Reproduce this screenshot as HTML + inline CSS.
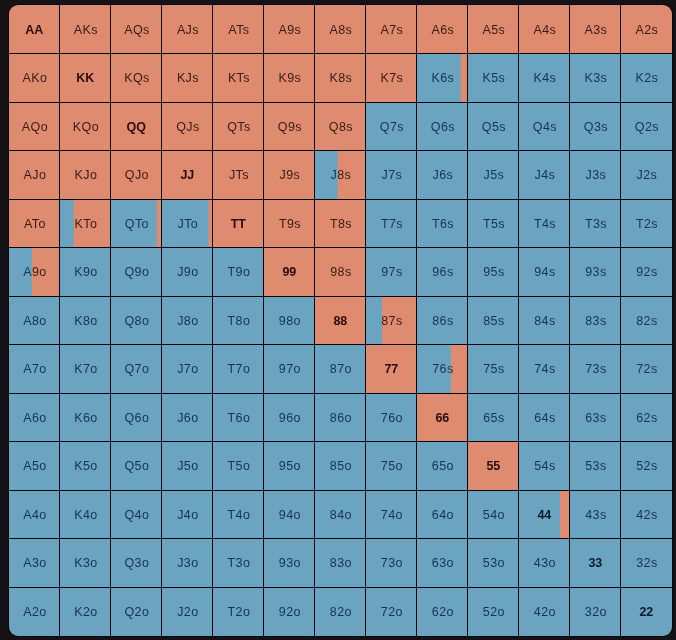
<!DOCTYPE html>
<html><head><meta charset="utf-8"><style>
html,body{margin:0;padding:0;}
body{width:676px;height:640px;background:#141215;position:relative;overflow:hidden;}
.g{position:absolute;left:8px;top:4px;width:663px;height:631px;border:1px solid #07070b;background:#07070b;border-radius:10px;overflow:hidden;}
.c{position:absolute;background:#6aa4c0;}
.s{background:#df8b70;}
.t{position:absolute;width:50px;height:50px;line-height:50px;text-align:center;box-sizing:border-box;padding-left:1.8px;
font-family:"Liberation Sans",sans-serif;font-size:12.5px;letter-spacing:0.4px;}
.p{font-weight:bold;letter-spacing:0;padding-left:0.7px;}
</style></head><body>
<div class="g">
<div class="c s" style="left:0px;top:0px;width:50px;height:48px"></div>
<div class="c s" style="left:51px;top:0px;width:50px;height:48px"></div>
<div class="c s" style="left:102px;top:0px;width:50px;height:48px"></div>
<div class="c s" style="left:153px;top:0px;width:50px;height:48px"></div>
<div class="c s" style="left:204px;top:0px;width:50px;height:48px"></div>
<div class="c s" style="left:255px;top:0px;width:50px;height:48px"></div>
<div class="c s" style="left:306px;top:0px;width:50px;height:48px"></div>
<div class="c s" style="left:357px;top:0px;width:50px;height:48px"></div>
<div class="c s" style="left:408px;top:0px;width:50px;height:48px"></div>
<div class="c s" style="left:459px;top:0px;width:50px;height:48px"></div>
<div class="c s" style="left:510px;top:0px;width:50px;height:48px"></div>
<div class="c s" style="left:561px;top:0px;width:50px;height:48px"></div>
<div class="c s" style="left:612px;top:0px;width:51px;height:48px"></div>
<div class="c s" style="left:0px;top:49px;width:50px;height:48px"></div>
<div class="c s" style="left:51px;top:49px;width:50px;height:48px"></div>
<div class="c s" style="left:102px;top:49px;width:50px;height:48px"></div>
<div class="c s" style="left:153px;top:49px;width:50px;height:48px"></div>
<div class="c s" style="left:204px;top:49px;width:50px;height:48px"></div>
<div class="c s" style="left:255px;top:49px;width:50px;height:48px"></div>
<div class="c s" style="left:306px;top:49px;width:50px;height:48px"></div>
<div class="c s" style="left:357px;top:49px;width:50px;height:48px"></div>
<div class="c" style="left:408px;top:49px;width:50px;height:48px;background:linear-gradient(to right,#6aa4c0 43.20px,#df8b70 44.20px)"></div>
<div class="c" style="left:459px;top:49px;width:50px;height:48px"></div>
<div class="c" style="left:510px;top:49px;width:50px;height:48px"></div>
<div class="c" style="left:561px;top:49px;width:50px;height:48px"></div>
<div class="c" style="left:612px;top:49px;width:51px;height:48px"></div>
<div class="c s" style="left:0px;top:98px;width:50px;height:47px"></div>
<div class="c s" style="left:51px;top:98px;width:50px;height:47px"></div>
<div class="c s" style="left:102px;top:98px;width:50px;height:47px"></div>
<div class="c s" style="left:153px;top:98px;width:50px;height:47px"></div>
<div class="c s" style="left:204px;top:98px;width:50px;height:47px"></div>
<div class="c s" style="left:255px;top:98px;width:50px;height:47px"></div>
<div class="c s" style="left:306px;top:98px;width:50px;height:47px"></div>
<div class="c" style="left:357px;top:98px;width:50px;height:47px"></div>
<div class="c" style="left:408px;top:98px;width:50px;height:47px"></div>
<div class="c" style="left:459px;top:98px;width:50px;height:47px"></div>
<div class="c" style="left:510px;top:98px;width:50px;height:47px"></div>
<div class="c" style="left:561px;top:98px;width:50px;height:47px"></div>
<div class="c" style="left:612px;top:98px;width:51px;height:47px"></div>
<div class="c s" style="left:0px;top:146px;width:50px;height:48px"></div>
<div class="c s" style="left:51px;top:146px;width:50px;height:48px"></div>
<div class="c s" style="left:102px;top:146px;width:50px;height:48px"></div>
<div class="c s" style="left:153px;top:146px;width:50px;height:48px"></div>
<div class="c s" style="left:204px;top:146px;width:50px;height:48px"></div>
<div class="c s" style="left:255px;top:146px;width:50px;height:48px"></div>
<div class="c" style="left:306px;top:146px;width:50px;height:48px;background:linear-gradient(to right,#6aa4c0 22.20px,#df8b70 23.20px)"></div>
<div class="c" style="left:357px;top:146px;width:50px;height:48px"></div>
<div class="c" style="left:408px;top:146px;width:50px;height:48px"></div>
<div class="c" style="left:459px;top:146px;width:50px;height:48px"></div>
<div class="c" style="left:510px;top:146px;width:50px;height:48px"></div>
<div class="c" style="left:561px;top:146px;width:50px;height:48px"></div>
<div class="c" style="left:612px;top:146px;width:51px;height:48px"></div>
<div class="c s" style="left:0px;top:195px;width:50px;height:47px"></div>
<div class="c" style="left:51px;top:195px;width:50px;height:47px;background:linear-gradient(to right,#6aa4c0 13.20px,#df8b70 14.20px)"></div>
<div class="c" style="left:102px;top:195px;width:50px;height:47px;background:linear-gradient(to right,#6aa4c0 45.30px,#df8b70 46.30px)"></div>
<div class="c" style="left:153px;top:195px;width:50px;height:47px;background:linear-gradient(to right,#6aa4c0 46.00px,#df8b70 47.00px)"></div>
<div class="c s" style="left:204px;top:195px;width:50px;height:47px"></div>
<div class="c s" style="left:255px;top:195px;width:50px;height:47px"></div>
<div class="c s" style="left:306px;top:195px;width:50px;height:47px"></div>
<div class="c" style="left:357px;top:195px;width:50px;height:47px"></div>
<div class="c" style="left:408px;top:195px;width:50px;height:47px"></div>
<div class="c" style="left:459px;top:195px;width:50px;height:47px"></div>
<div class="c" style="left:510px;top:195px;width:50px;height:47px"></div>
<div class="c" style="left:561px;top:195px;width:50px;height:47px"></div>
<div class="c" style="left:612px;top:195px;width:51px;height:47px"></div>
<div class="c" style="left:0px;top:243px;width:50px;height:48px;background:linear-gradient(to right,#6aa4c0 22.35px,#df8b70 23.35px)"></div>
<div class="c" style="left:51px;top:243px;width:50px;height:48px"></div>
<div class="c" style="left:102px;top:243px;width:50px;height:48px"></div>
<div class="c" style="left:153px;top:243px;width:50px;height:48px"></div>
<div class="c" style="left:204px;top:243px;width:50px;height:48px"></div>
<div class="c s" style="left:255px;top:243px;width:50px;height:48px"></div>
<div class="c s" style="left:306px;top:243px;width:50px;height:48px"></div>
<div class="c" style="left:357px;top:243px;width:50px;height:48px"></div>
<div class="c" style="left:408px;top:243px;width:50px;height:48px"></div>
<div class="c" style="left:459px;top:243px;width:50px;height:48px"></div>
<div class="c" style="left:510px;top:243px;width:50px;height:48px"></div>
<div class="c" style="left:561px;top:243px;width:50px;height:48px"></div>
<div class="c" style="left:612px;top:243px;width:51px;height:48px"></div>
<div class="c" style="left:0px;top:292px;width:50px;height:47px"></div>
<div class="c" style="left:51px;top:292px;width:50px;height:47px"></div>
<div class="c" style="left:102px;top:292px;width:50px;height:47px"></div>
<div class="c" style="left:153px;top:292px;width:50px;height:47px"></div>
<div class="c" style="left:204px;top:292px;width:50px;height:47px"></div>
<div class="c" style="left:255px;top:292px;width:50px;height:47px"></div>
<div class="c s" style="left:306px;top:292px;width:50px;height:47px"></div>
<div class="c" style="left:357px;top:292px;width:50px;height:47px;background:linear-gradient(to right,#6aa4c0 15.50px,#df8b70 16.50px)"></div>
<div class="c" style="left:408px;top:292px;width:50px;height:47px"></div>
<div class="c" style="left:459px;top:292px;width:50px;height:47px"></div>
<div class="c" style="left:510px;top:292px;width:50px;height:47px"></div>
<div class="c" style="left:561px;top:292px;width:50px;height:47px"></div>
<div class="c" style="left:612px;top:292px;width:51px;height:47px"></div>
<div class="c" style="left:0px;top:340px;width:50px;height:48px"></div>
<div class="c" style="left:51px;top:340px;width:50px;height:48px"></div>
<div class="c" style="left:102px;top:340px;width:50px;height:48px"></div>
<div class="c" style="left:153px;top:340px;width:50px;height:48px"></div>
<div class="c" style="left:204px;top:340px;width:50px;height:48px"></div>
<div class="c" style="left:255px;top:340px;width:50px;height:48px"></div>
<div class="c" style="left:306px;top:340px;width:50px;height:48px"></div>
<div class="c s" style="left:357px;top:340px;width:50px;height:48px"></div>
<div class="c" style="left:408px;top:340px;width:50px;height:48px;background:linear-gradient(to right,#6aa4c0 33.50px,#df8b70 34.50px)"></div>
<div class="c" style="left:459px;top:340px;width:50px;height:48px"></div>
<div class="c" style="left:510px;top:340px;width:50px;height:48px"></div>
<div class="c" style="left:561px;top:340px;width:50px;height:48px"></div>
<div class="c" style="left:612px;top:340px;width:51px;height:48px"></div>
<div class="c" style="left:0px;top:389px;width:50px;height:47px"></div>
<div class="c" style="left:51px;top:389px;width:50px;height:47px"></div>
<div class="c" style="left:102px;top:389px;width:50px;height:47px"></div>
<div class="c" style="left:153px;top:389px;width:50px;height:47px"></div>
<div class="c" style="left:204px;top:389px;width:50px;height:47px"></div>
<div class="c" style="left:255px;top:389px;width:50px;height:47px"></div>
<div class="c" style="left:306px;top:389px;width:50px;height:47px"></div>
<div class="c" style="left:357px;top:389px;width:50px;height:47px"></div>
<div class="c s" style="left:408px;top:389px;width:50px;height:47px"></div>
<div class="c" style="left:459px;top:389px;width:50px;height:47px"></div>
<div class="c" style="left:510px;top:389px;width:50px;height:47px"></div>
<div class="c" style="left:561px;top:389px;width:50px;height:47px"></div>
<div class="c" style="left:612px;top:389px;width:51px;height:47px"></div>
<div class="c" style="left:0px;top:437px;width:50px;height:48px"></div>
<div class="c" style="left:51px;top:437px;width:50px;height:48px"></div>
<div class="c" style="left:102px;top:437px;width:50px;height:48px"></div>
<div class="c" style="left:153px;top:437px;width:50px;height:48px"></div>
<div class="c" style="left:204px;top:437px;width:50px;height:48px"></div>
<div class="c" style="left:255px;top:437px;width:50px;height:48px"></div>
<div class="c" style="left:306px;top:437px;width:50px;height:48px"></div>
<div class="c" style="left:357px;top:437px;width:50px;height:48px"></div>
<div class="c" style="left:408px;top:437px;width:50px;height:48px"></div>
<div class="c s" style="left:459px;top:437px;width:50px;height:48px"></div>
<div class="c" style="left:510px;top:437px;width:50px;height:48px"></div>
<div class="c" style="left:561px;top:437px;width:50px;height:48px"></div>
<div class="c" style="left:612px;top:437px;width:51px;height:48px"></div>
<div class="c" style="left:0px;top:486px;width:50px;height:47px"></div>
<div class="c" style="left:51px;top:486px;width:50px;height:47px"></div>
<div class="c" style="left:102px;top:486px;width:50px;height:47px"></div>
<div class="c" style="left:153px;top:486px;width:50px;height:47px"></div>
<div class="c" style="left:204px;top:486px;width:50px;height:47px"></div>
<div class="c" style="left:255px;top:486px;width:50px;height:47px"></div>
<div class="c" style="left:306px;top:486px;width:50px;height:47px"></div>
<div class="c" style="left:357px;top:486px;width:50px;height:47px"></div>
<div class="c" style="left:408px;top:486px;width:50px;height:47px"></div>
<div class="c" style="left:459px;top:486px;width:50px;height:47px"></div>
<div class="c" style="left:510px;top:486px;width:50px;height:47px;background:linear-gradient(to right,#6aa4c0 40.50px,#df8b70 41.50px)"></div>
<div class="c" style="left:561px;top:486px;width:50px;height:47px"></div>
<div class="c" style="left:612px;top:486px;width:51px;height:47px"></div>
<div class="c" style="left:0px;top:534px;width:50px;height:48px"></div>
<div class="c" style="left:51px;top:534px;width:50px;height:48px"></div>
<div class="c" style="left:102px;top:534px;width:50px;height:48px"></div>
<div class="c" style="left:153px;top:534px;width:50px;height:48px"></div>
<div class="c" style="left:204px;top:534px;width:50px;height:48px"></div>
<div class="c" style="left:255px;top:534px;width:50px;height:48px"></div>
<div class="c" style="left:306px;top:534px;width:50px;height:48px"></div>
<div class="c" style="left:357px;top:534px;width:50px;height:48px"></div>
<div class="c" style="left:408px;top:534px;width:50px;height:48px"></div>
<div class="c" style="left:459px;top:534px;width:50px;height:48px"></div>
<div class="c" style="left:510px;top:534px;width:50px;height:48px"></div>
<div class="c" style="left:561px;top:534px;width:50px;height:48px"></div>
<div class="c" style="left:612px;top:534px;width:51px;height:48px"></div>
<div class="c" style="left:0px;top:583px;width:50px;height:48px"></div>
<div class="c" style="left:51px;top:583px;width:50px;height:48px"></div>
<div class="c" style="left:102px;top:583px;width:50px;height:48px"></div>
<div class="c" style="left:153px;top:583px;width:50px;height:48px"></div>
<div class="c" style="left:204px;top:583px;width:50px;height:48px"></div>
<div class="c" style="left:255px;top:583px;width:50px;height:48px"></div>
<div class="c" style="left:306px;top:583px;width:50px;height:48px"></div>
<div class="c" style="left:357px;top:583px;width:50px;height:48px"></div>
<div class="c" style="left:408px;top:583px;width:50px;height:48px"></div>
<div class="c" style="left:459px;top:583px;width:50px;height:48px"></div>
<div class="c" style="left:510px;top:583px;width:50px;height:48px"></div>
<div class="c" style="left:561px;top:583px;width:50px;height:48px"></div>
<div class="c" style="left:612px;top:583px;width:51px;height:48px"></div>
<div class="t p" style="left:0px;top:-0.30px;color:rgba(36,6,0,0.95)">AA</div>
<div class="t" style="left:51px;top:-0.30px;color:rgba(24,6,2,0.84)">AKs</div>
<div class="t" style="left:102px;top:-0.30px;color:rgba(24,6,2,0.84)">AQs</div>
<div class="t" style="left:153px;top:-0.30px;color:rgba(24,6,2,0.84)">AJs</div>
<div class="t" style="left:204px;top:-0.30px;color:rgba(24,6,2,0.84)">ATs</div>
<div class="t" style="left:255px;top:-0.30px;color:rgba(24,6,2,0.84)">A9s</div>
<div class="t" style="left:306px;top:-0.30px;color:rgba(24,6,2,0.84)">A8s</div>
<div class="t" style="left:357px;top:-0.30px;color:rgba(24,6,2,0.84)">A7s</div>
<div class="t" style="left:408px;top:-0.30px;color:rgba(24,6,2,0.84)">A6s</div>
<div class="t" style="left:459px;top:-0.30px;color:rgba(24,6,2,0.84)">A5s</div>
<div class="t" style="left:510px;top:-0.30px;color:rgba(24,6,2,0.84)">A4s</div>
<div class="t" style="left:561px;top:-0.30px;color:rgba(24,6,2,0.84)">A3s</div>
<div class="t" style="left:612px;top:-0.30px;color:rgba(24,6,2,0.84)">A2s</div>
<div class="t" style="left:0px;top:47.70px;color:rgba(24,6,2,0.84)">AKo</div>
<div class="t p" style="left:51px;top:47.70px;color:rgba(36,6,0,0.95)">KK</div>
<div class="t" style="left:102px;top:47.70px;color:rgba(24,6,2,0.84)">KQs</div>
<div class="t" style="left:153px;top:47.70px;color:rgba(24,6,2,0.84)">KJs</div>
<div class="t" style="left:204px;top:47.70px;color:rgba(24,6,2,0.84)">KTs</div>
<div class="t" style="left:255px;top:47.70px;color:rgba(24,6,2,0.84)">K9s</div>
<div class="t" style="left:306px;top:47.70px;color:rgba(24,6,2,0.84)">K8s</div>
<div class="t" style="left:357px;top:47.70px;color:rgba(24,6,2,0.84)">K7s</div>
<div class="t" style="left:408px;top:47.70px;color:transparent;background:linear-gradient(to right,rgba(8,32,60,0.85) 43.20px,rgba(24,6,2,0.84) 44.20px);-webkit-background-clip:text;background-clip:text">K6s</div>
<div class="t" style="left:459px;top:47.70px;color:rgba(8,32,60,0.85)">K5s</div>
<div class="t" style="left:510px;top:47.70px;color:rgba(8,32,60,0.85)">K4s</div>
<div class="t" style="left:561px;top:47.70px;color:rgba(8,32,60,0.85)">K3s</div>
<div class="t" style="left:612px;top:47.70px;color:rgba(8,32,60,0.85)">K2s</div>
<div class="t" style="left:0px;top:96.70px;color:rgba(24,6,2,0.84)">AQo</div>
<div class="t" style="left:51px;top:96.70px;color:rgba(24,6,2,0.84)">KQo</div>
<div class="t p" style="left:102px;top:96.70px;color:rgba(36,6,0,0.95)">QQ</div>
<div class="t" style="left:153px;top:96.70px;color:rgba(24,6,2,0.84)">QJs</div>
<div class="t" style="left:204px;top:96.70px;color:rgba(24,6,2,0.84)">QTs</div>
<div class="t" style="left:255px;top:96.70px;color:rgba(24,6,2,0.84)">Q9s</div>
<div class="t" style="left:306px;top:96.70px;color:rgba(24,6,2,0.84)">Q8s</div>
<div class="t" style="left:357px;top:96.70px;color:rgba(8,32,60,0.85)">Q7s</div>
<div class="t" style="left:408px;top:96.70px;color:rgba(8,32,60,0.85)">Q6s</div>
<div class="t" style="left:459px;top:96.70px;color:rgba(8,32,60,0.85)">Q5s</div>
<div class="t" style="left:510px;top:96.70px;color:rgba(8,32,60,0.85)">Q4s</div>
<div class="t" style="left:561px;top:96.70px;color:rgba(8,32,60,0.85)">Q3s</div>
<div class="t" style="left:612px;top:96.70px;color:rgba(8,32,60,0.85)">Q2s</div>
<div class="t" style="left:0px;top:144.70px;color:rgba(24,6,2,0.84)">AJo</div>
<div class="t" style="left:51px;top:144.70px;color:rgba(24,6,2,0.84)">KJo</div>
<div class="t" style="left:102px;top:144.70px;color:rgba(24,6,2,0.84)">QJo</div>
<div class="t p" style="left:153px;top:144.70px;color:rgba(36,6,0,0.95)">JJ</div>
<div class="t" style="left:204px;top:144.70px;color:rgba(24,6,2,0.84)">JTs</div>
<div class="t" style="left:255px;top:144.70px;color:rgba(24,6,2,0.84)">J9s</div>
<div class="t" style="left:306px;top:144.70px;color:transparent;background:linear-gradient(to right,rgba(8,32,60,0.85) 22.20px,rgba(24,6,2,0.84) 23.20px);-webkit-background-clip:text;background-clip:text">J8s</div>
<div class="t" style="left:357px;top:144.70px;color:rgba(8,32,60,0.85)">J7s</div>
<div class="t" style="left:408px;top:144.70px;color:rgba(8,32,60,0.85)">J6s</div>
<div class="t" style="left:459px;top:144.70px;color:rgba(8,32,60,0.85)">J5s</div>
<div class="t" style="left:510px;top:144.70px;color:rgba(8,32,60,0.85)">J4s</div>
<div class="t" style="left:561px;top:144.70px;color:rgba(8,32,60,0.85)">J3s</div>
<div class="t" style="left:612px;top:144.70px;color:rgba(8,32,60,0.85)">J2s</div>
<div class="t" style="left:0px;top:193.70px;color:rgba(24,6,2,0.84)">ATo</div>
<div class="t" style="left:51px;top:193.70px;color:transparent;background:linear-gradient(to right,rgba(8,32,60,0.85) 13.20px,rgba(24,6,2,0.84) 14.20px);-webkit-background-clip:text;background-clip:text">KTo</div>
<div class="t" style="left:102px;top:193.70px;color:transparent;background:linear-gradient(to right,rgba(8,32,60,0.85) 45.30px,rgba(24,6,2,0.84) 46.30px);-webkit-background-clip:text;background-clip:text">QTo</div>
<div class="t" style="left:153px;top:193.70px;color:transparent;background:linear-gradient(to right,rgba(8,32,60,0.85) 46.00px,rgba(24,6,2,0.84) 47.00px);-webkit-background-clip:text;background-clip:text">JTo</div>
<div class="t p" style="left:204px;top:193.70px;color:rgba(36,6,0,0.95)">TT</div>
<div class="t" style="left:255px;top:193.70px;color:rgba(24,6,2,0.84)">T9s</div>
<div class="t" style="left:306px;top:193.70px;color:rgba(24,6,2,0.84)">T8s</div>
<div class="t" style="left:357px;top:193.70px;color:rgba(8,32,60,0.85)">T7s</div>
<div class="t" style="left:408px;top:193.70px;color:rgba(8,32,60,0.85)">T6s</div>
<div class="t" style="left:459px;top:193.70px;color:rgba(8,32,60,0.85)">T5s</div>
<div class="t" style="left:510px;top:193.70px;color:rgba(8,32,60,0.85)">T4s</div>
<div class="t" style="left:561px;top:193.70px;color:rgba(8,32,60,0.85)">T3s</div>
<div class="t" style="left:612px;top:193.70px;color:rgba(8,32,60,0.85)">T2s</div>
<div class="t" style="left:0px;top:241.70px;color:transparent;background:linear-gradient(to right,rgba(8,32,60,0.85) 22.35px,rgba(24,6,2,0.84) 23.35px);-webkit-background-clip:text;background-clip:text">A9o</div>
<div class="t" style="left:51px;top:241.70px;color:rgba(8,32,60,0.85)">K9o</div>
<div class="t" style="left:102px;top:241.70px;color:rgba(8,32,60,0.85)">Q9o</div>
<div class="t" style="left:153px;top:241.70px;color:rgba(8,32,60,0.85)">J9o</div>
<div class="t" style="left:204px;top:241.70px;color:rgba(8,32,60,0.85)">T9o</div>
<div class="t p" style="left:255px;top:241.70px;color:rgba(36,6,0,0.95)">99</div>
<div class="t" style="left:306px;top:241.70px;color:rgba(24,6,2,0.84)">98s</div>
<div class="t" style="left:357px;top:241.70px;color:rgba(8,32,60,0.85)">97s</div>
<div class="t" style="left:408px;top:241.70px;color:rgba(8,32,60,0.85)">96s</div>
<div class="t" style="left:459px;top:241.70px;color:rgba(8,32,60,0.85)">95s</div>
<div class="t" style="left:510px;top:241.70px;color:rgba(8,32,60,0.85)">94s</div>
<div class="t" style="left:561px;top:241.70px;color:rgba(8,32,60,0.85)">93s</div>
<div class="t" style="left:612px;top:241.70px;color:rgba(8,32,60,0.85)">92s</div>
<div class="t" style="left:0px;top:290.70px;color:rgba(8,32,60,0.85)">A8o</div>
<div class="t" style="left:51px;top:290.70px;color:rgba(8,32,60,0.85)">K8o</div>
<div class="t" style="left:102px;top:290.70px;color:rgba(8,32,60,0.85)">Q8o</div>
<div class="t" style="left:153px;top:290.70px;color:rgba(8,32,60,0.85)">J8o</div>
<div class="t" style="left:204px;top:290.70px;color:rgba(8,32,60,0.85)">T8o</div>
<div class="t" style="left:255px;top:290.70px;color:rgba(8,32,60,0.85)">98o</div>
<div class="t p" style="left:306px;top:290.70px;color:rgba(36,6,0,0.95)">88</div>
<div class="t" style="left:357px;top:290.70px;color:transparent;background:linear-gradient(to right,rgba(8,32,60,0.85) 15.50px,rgba(24,6,2,0.84) 16.50px);-webkit-background-clip:text;background-clip:text">87s</div>
<div class="t" style="left:408px;top:290.70px;color:rgba(8,32,60,0.85)">86s</div>
<div class="t" style="left:459px;top:290.70px;color:rgba(8,32,60,0.85)">85s</div>
<div class="t" style="left:510px;top:290.70px;color:rgba(8,32,60,0.85)">84s</div>
<div class="t" style="left:561px;top:290.70px;color:rgba(8,32,60,0.85)">83s</div>
<div class="t" style="left:612px;top:290.70px;color:rgba(8,32,60,0.85)">82s</div>
<div class="t" style="left:0px;top:338.70px;color:rgba(8,32,60,0.85)">A7o</div>
<div class="t" style="left:51px;top:338.70px;color:rgba(8,32,60,0.85)">K7o</div>
<div class="t" style="left:102px;top:338.70px;color:rgba(8,32,60,0.85)">Q7o</div>
<div class="t" style="left:153px;top:338.70px;color:rgba(8,32,60,0.85)">J7o</div>
<div class="t" style="left:204px;top:338.70px;color:rgba(8,32,60,0.85)">T7o</div>
<div class="t" style="left:255px;top:338.70px;color:rgba(8,32,60,0.85)">97o</div>
<div class="t" style="left:306px;top:338.70px;color:rgba(8,32,60,0.85)">87o</div>
<div class="t p" style="left:357px;top:338.70px;color:rgba(36,6,0,0.95)">77</div>
<div class="t" style="left:408px;top:338.70px;color:transparent;background:linear-gradient(to right,rgba(8,32,60,0.85) 33.50px,rgba(24,6,2,0.84) 34.50px);-webkit-background-clip:text;background-clip:text">76s</div>
<div class="t" style="left:459px;top:338.70px;color:rgba(8,32,60,0.85)">75s</div>
<div class="t" style="left:510px;top:338.70px;color:rgba(8,32,60,0.85)">74s</div>
<div class="t" style="left:561px;top:338.70px;color:rgba(8,32,60,0.85)">73s</div>
<div class="t" style="left:612px;top:338.70px;color:rgba(8,32,60,0.85)">72s</div>
<div class="t" style="left:0px;top:387.70px;color:rgba(8,32,60,0.85)">A6o</div>
<div class="t" style="left:51px;top:387.70px;color:rgba(8,32,60,0.85)">K6o</div>
<div class="t" style="left:102px;top:387.70px;color:rgba(8,32,60,0.85)">Q6o</div>
<div class="t" style="left:153px;top:387.70px;color:rgba(8,32,60,0.85)">J6o</div>
<div class="t" style="left:204px;top:387.70px;color:rgba(8,32,60,0.85)">T6o</div>
<div class="t" style="left:255px;top:387.70px;color:rgba(8,32,60,0.85)">96o</div>
<div class="t" style="left:306px;top:387.70px;color:rgba(8,32,60,0.85)">86o</div>
<div class="t" style="left:357px;top:387.70px;color:rgba(8,32,60,0.85)">76o</div>
<div class="t p" style="left:408px;top:387.70px;color:rgba(36,6,0,0.95)">66</div>
<div class="t" style="left:459px;top:387.70px;color:rgba(8,32,60,0.85)">65s</div>
<div class="t" style="left:510px;top:387.70px;color:rgba(8,32,60,0.85)">64s</div>
<div class="t" style="left:561px;top:387.70px;color:rgba(8,32,60,0.85)">63s</div>
<div class="t" style="left:612px;top:387.70px;color:rgba(8,32,60,0.85)">62s</div>
<div class="t" style="left:0px;top:435.70px;color:rgba(8,32,60,0.85)">A5o</div>
<div class="t" style="left:51px;top:435.70px;color:rgba(8,32,60,0.85)">K5o</div>
<div class="t" style="left:102px;top:435.70px;color:rgba(8,32,60,0.85)">Q5o</div>
<div class="t" style="left:153px;top:435.70px;color:rgba(8,32,60,0.85)">J5o</div>
<div class="t" style="left:204px;top:435.70px;color:rgba(8,32,60,0.85)">T5o</div>
<div class="t" style="left:255px;top:435.70px;color:rgba(8,32,60,0.85)">95o</div>
<div class="t" style="left:306px;top:435.70px;color:rgba(8,32,60,0.85)">85o</div>
<div class="t" style="left:357px;top:435.70px;color:rgba(8,32,60,0.85)">75o</div>
<div class="t" style="left:408px;top:435.70px;color:rgba(8,32,60,0.85)">65o</div>
<div class="t p" style="left:459px;top:435.70px;color:rgba(36,6,0,0.95)">55</div>
<div class="t" style="left:510px;top:435.70px;color:rgba(8,32,60,0.85)">54s</div>
<div class="t" style="left:561px;top:435.70px;color:rgba(8,32,60,0.85)">53s</div>
<div class="t" style="left:612px;top:435.70px;color:rgba(8,32,60,0.85)">52s</div>
<div class="t" style="left:0px;top:484.70px;color:rgba(8,32,60,0.85)">A4o</div>
<div class="t" style="left:51px;top:484.70px;color:rgba(8,32,60,0.85)">K4o</div>
<div class="t" style="left:102px;top:484.70px;color:rgba(8,32,60,0.85)">Q4o</div>
<div class="t" style="left:153px;top:484.70px;color:rgba(8,32,60,0.85)">J4o</div>
<div class="t" style="left:204px;top:484.70px;color:rgba(8,32,60,0.85)">T4o</div>
<div class="t" style="left:255px;top:484.70px;color:rgba(8,32,60,0.85)">94o</div>
<div class="t" style="left:306px;top:484.70px;color:rgba(8,32,60,0.85)">84o</div>
<div class="t" style="left:357px;top:484.70px;color:rgba(8,32,60,0.85)">74o</div>
<div class="t" style="left:408px;top:484.70px;color:rgba(8,32,60,0.85)">64o</div>
<div class="t" style="left:459px;top:484.70px;color:rgba(8,32,60,0.85)">54o</div>
<div class="t p" style="left:510px;top:484.70px;color:transparent;background:linear-gradient(to right,rgba(4,18,36,0.95) 40.50px,rgba(36,6,0,0.95) 41.50px);-webkit-background-clip:text;background-clip:text">44</div>
<div class="t" style="left:561px;top:484.70px;color:rgba(8,32,60,0.85)">43s</div>
<div class="t" style="left:612px;top:484.70px;color:rgba(8,32,60,0.85)">42s</div>
<div class="t" style="left:0px;top:532.70px;color:rgba(8,32,60,0.85)">A3o</div>
<div class="t" style="left:51px;top:532.70px;color:rgba(8,32,60,0.85)">K3o</div>
<div class="t" style="left:102px;top:532.70px;color:rgba(8,32,60,0.85)">Q3o</div>
<div class="t" style="left:153px;top:532.70px;color:rgba(8,32,60,0.85)">J3o</div>
<div class="t" style="left:204px;top:532.70px;color:rgba(8,32,60,0.85)">T3o</div>
<div class="t" style="left:255px;top:532.70px;color:rgba(8,32,60,0.85)">93o</div>
<div class="t" style="left:306px;top:532.70px;color:rgba(8,32,60,0.85)">83o</div>
<div class="t" style="left:357px;top:532.70px;color:rgba(8,32,60,0.85)">73o</div>
<div class="t" style="left:408px;top:532.70px;color:rgba(8,32,60,0.85)">63o</div>
<div class="t" style="left:459px;top:532.70px;color:rgba(8,32,60,0.85)">53o</div>
<div class="t" style="left:510px;top:532.70px;color:rgba(8,32,60,0.85)">43o</div>
<div class="t p" style="left:561px;top:532.70px;color:rgba(4,18,36,0.95)">33</div>
<div class="t" style="left:612px;top:532.70px;color:rgba(8,32,60,0.85)">32s</div>
<div class="t" style="left:0px;top:581.70px;color:rgba(8,32,60,0.85)">A2o</div>
<div class="t" style="left:51px;top:581.70px;color:rgba(8,32,60,0.85)">K2o</div>
<div class="t" style="left:102px;top:581.70px;color:rgba(8,32,60,0.85)">Q2o</div>
<div class="t" style="left:153px;top:581.70px;color:rgba(8,32,60,0.85)">J2o</div>
<div class="t" style="left:204px;top:581.70px;color:rgba(8,32,60,0.85)">T2o</div>
<div class="t" style="left:255px;top:581.70px;color:rgba(8,32,60,0.85)">92o</div>
<div class="t" style="left:306px;top:581.70px;color:rgba(8,32,60,0.85)">82o</div>
<div class="t" style="left:357px;top:581.70px;color:rgba(8,32,60,0.85)">72o</div>
<div class="t" style="left:408px;top:581.70px;color:rgba(8,32,60,0.85)">62o</div>
<div class="t" style="left:459px;top:581.70px;color:rgba(8,32,60,0.85)">52o</div>
<div class="t" style="left:510px;top:581.70px;color:rgba(8,32,60,0.85)">42o</div>
<div class="t" style="left:561px;top:581.70px;color:rgba(8,32,60,0.85)">32o</div>
<div class="t p" style="left:612px;top:581.70px;color:rgba(4,18,36,0.95)">22</div>
</div>
</body></html>
